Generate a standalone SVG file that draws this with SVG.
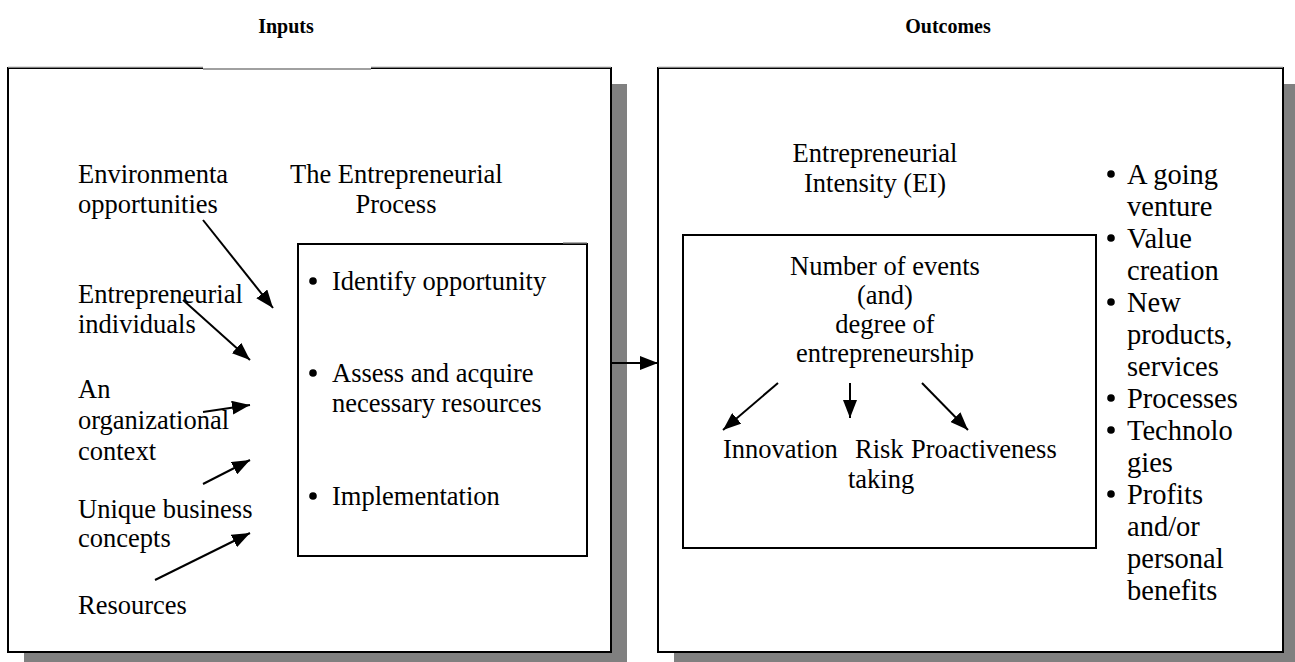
<svg xmlns="http://www.w3.org/2000/svg" width="1295" height="662" viewBox="0 0 1295 662">
  <style>
    .t { font-family: "Liberation Serif", "Times New Roman", serif; font-size: 26.5px; fill: #000; }
    .r { font-family: "Liberation Serif", "Times New Roman", serif; font-size: 28.5px; fill: #000; }
    .h { font-family: "Liberation Serif", "Times New Roman", serif; font-size: 20px; font-weight: bold; fill: #000; }
    .mid { text-anchor: middle; }
    .frame { fill: #fff; stroke: #000; stroke-width: 2; }
    .shadow { fill: #808080; }
    .edge { stroke: #808080; stroke-width: 1.3; fill: none; }
    .dot { fill: #000; }
    .conn { stroke: #000; stroke-width: 2; fill: none; marker-end: url(#ah); }
  </style>
  <defs>
    <marker id="ah" viewBox="0 0 18 14" refX="18" refY="7" markerWidth="18" markerHeight="14" markerUnits="userSpaceOnUse" orient="auto">
      <path d="M0,0 L18,7 L0,14 z" fill="#000"/>
    </marker>
  </defs>
  <rect width="1295" height="662" fill="#fff"/>

  <!-- column headings -->
  <text class="h mid" x="286" y="33">Inputs</text>
  <text class="h mid" x="948" y="33">Outcomes</text>

  <!-- Inputs panel -->
  <g id="inputs-panel">
    <rect class="shadow" x="24" y="84" width="603" height="584"/>
    <rect class="frame" x="8" y="68" width="603" height="584"/>
    <line class="edge" x1="8" y1="67.3" x2="611" y2="67.3"/>
    <!-- break in the top border -->
    <rect x="203" y="66" width="168" height="4" fill="#fff"/>
    <line class="edge" x1="203" y1="69" x2="371" y2="69"/>
  </g>

  <g id="input-labels">
    <text class="t" x="78" y="183">Environmenta</text>
    <text class="t" x="78" y="213">opportunities</text>
    <text class="t" x="78" y="303">Entrepreneurial</text>
    <text class="t" x="78" y="333">individuals</text>
    <text class="t" x="78" y="398">An</text>
    <text class="t" x="78" y="429">organizational</text>
    <text class="t" x="78" y="460">context</text>
    <text class="t" x="78" y="518">Unique business</text>
    <text class="t" x="78" y="547">concepts</text>
    <text class="t" x="78" y="614">Resources</text>
  </g>

  <g id="process-title">
    <text class="t" x="290" y="183">The Entrepreneurial</text>
    <text class="t mid" x="396" y="213">Process</text>
  </g>

  <g id="process-box">
    <rect class="frame" x="298" y="244" width="289" height="312"/>
    <line class="edge" x1="563" y1="243" x2="587" y2="243"/>
    <circle class="dot" cx="313" cy="281" r="3.8"/>
    <text class="t" x="332" y="290">Identify opportunity</text>
    <circle class="dot" cx="313" cy="373" r="3.8"/>
    <text class="t" x="332" y="382">Assess and acquire</text>
    <text class="t" x="332" y="412">necessary resources</text>
    <circle class="dot" cx="313" cy="496" r="3.8"/>
    <text class="t" x="332" y="505">Implementation</text>
  </g>

  <!-- Outcomes panel -->
  <g id="outcomes-panel">
    <rect class="shadow" x="674" y="84" width="625" height="584"/>
    <rect class="frame" x="658" y="68" width="625" height="584"/>
    <line class="edge" x1="658" y1="67.3" x2="1283" y2="67.3"/>
  </g>

  <g id="ei-title">
    <text class="t mid" x="875" y="162">Entrepreneurial</text>
    <text class="t mid" x="875" y="192">Intensity (EI)</text>
  </g>

  <g id="ei-box">
    <rect class="frame" x="683" y="235" width="413" height="313"/>
    <text class="t mid" x="885" y="275">Number of events</text>
    <text class="t mid" x="885" y="304">(and)</text>
    <text class="t mid" x="885" y="333">degree of</text>
    <text class="t mid" x="885" y="362">entrepreneurship</text>
  </g>

  <g id="ei-dimensions">
    <text class="t" x="723" y="458">Innovation</text>
    <text class="t" x="855" y="458">Risk</text>
    <text class="t" x="848" y="488">taking</text>
    <text class="t" x="911" y="458">Proactiveness</text>
  </g>

  <g id="outcome-list">
    <circle class="dot" cx="1111" cy="174" r="3.8"/><text class="r" x="1127" y="184">A going</text>
    <text class="r" x="1127" y="216">venture</text>
    <circle class="dot" cx="1111" cy="238" r="3.8"/><text class="r" x="1127" y="248">Value</text>
    <text class="r" x="1127" y="280">creation</text>
    <circle class="dot" cx="1111" cy="302" r="3.8"/><text class="r" x="1127" y="312">New</text>
    <text class="r" x="1127" y="344">products,</text>
    <text class="r" x="1127" y="376">services</text>
    <circle class="dot" cx="1111" cy="398" r="3.8"/><text class="r" x="1127" y="408">Processes</text>
    <circle class="dot" cx="1111" cy="430" r="3.8"/><text class="r" x="1127" y="440">Technolo</text>
    <text class="r" x="1127" y="472">gies</text>
    <circle class="dot" cx="1111" cy="494" r="3.8"/><text class="r" x="1127" y="504">Profits</text>
    <text class="r" x="1127" y="536">and/or</text>
    <text class="r" x="1127" y="568">personal</text>
    <text class="r" x="1127" y="600">benefits</text>
  </g>

  <!-- connectors -->
  <g id="connectors">
    <line class="conn" x1="203" y1="220" x2="273" y2="308"/>
    <line class="conn" x1="183" y1="300" x2="250" y2="360"/>
    <line class="conn" x1="203" y1="412" x2="250" y2="405"/>
    <line class="conn" x1="203" y1="484" x2="250" y2="460"/>
    <line class="conn" x1="155" y1="580" x2="250" y2="533"/>
    <line class="conn" x1="611" y1="363" x2="658" y2="363"/>
    <line class="conn" x1="778" y1="383" x2="723" y2="430"/>
    <line class="conn" x1="850" y1="383" x2="850" y2="418"/>
    <line class="conn" x1="922" y1="383" x2="968" y2="430"/>
  </g>
</svg>
